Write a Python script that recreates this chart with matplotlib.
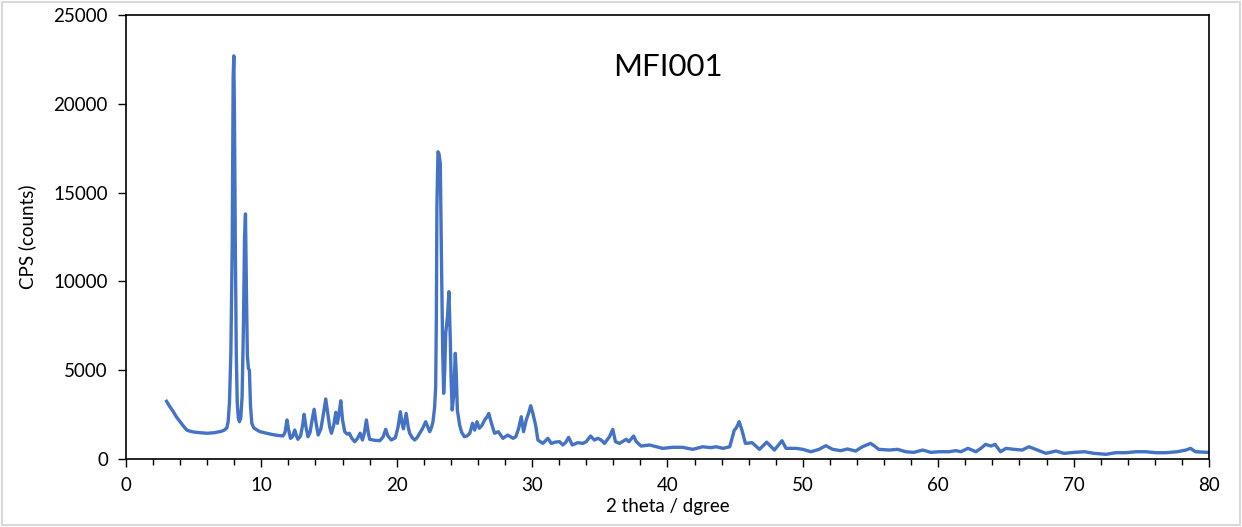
import matplotlib
matplotlib.use("Agg")
import matplotlib.pyplot as plt
from matplotlib.patches import Rectangle
from matplotlib.ticker import MultipleLocator

plt.rcParams["font.family"] = ["Lato", "DejaVu Sans"]

C_LINE = "#4472C4"
C_TEXT = "#000000"

# XRD pattern (2 theta in degrees, intensity in CPS)
two_theta = [
    3.0, 3.2, 3.5, 3.75, 4.0, 4.25, 4.5, 4.75, 5.0, 5.5, 6.0, 6.5, 7.0, 7.25,
    7.45, 7.55, 7.65, 7.75, 7.85, 7.92, 7.97, 8.02, 8.08, 8.15, 8.22, 8.3,
    8.38, 8.48, 8.58, 8.68, 8.76, 8.83, 8.9, 8.97, 9.05, 9.12, 9.2, 9.3,
    9.45, 9.65, 9.9, 10.4, 10.8, 11.2, 11.6, 11.75, 11.9, 12.0, 12.15, 12.3,
    12.47, 12.6, 12.7, 12.9, 13.05, 13.16, 13.3, 13.45, 13.6, 13.75, 13.9,
    14.05, 14.2, 14.4, 14.6, 14.76, 14.9, 15.05, 15.18, 15.35, 15.5, 15.62,
    15.75, 15.87, 16.0, 16.16, 16.35, 16.5, 16.7, 16.9, 17.1, 17.3, 17.47,
    17.62, 17.76, 17.9, 18.0, 18.4, 18.75, 19.0, 19.19, 19.35, 19.6, 19.9,
    20.1, 20.27, 20.4, 20.5, 20.7, 20.85, 20.96, 21.15, 21.33, 21.5, 21.7,
    21.9, 22.14, 22.3, 22.44, 22.58, 22.68, 22.8, 22.88, 22.93, 22.97, 23.05,
    23.12, 23.22, 23.32, 23.4, 23.47, 23.55, 23.62, 23.75, 23.86, 23.96,
    24.02, 24.1, 24.2, 24.33, 24.4, 24.48, 24.65, 24.8, 25.0, 25.2, 25.4,
    25.6, 25.76, 25.93, 26.1, 26.3, 26.5, 26.7, 26.8, 27.0, 27.23, 27.5,
    27.85, 28.2, 28.6, 28.8, 29.0, 29.2, 29.37, 29.57, 29.75, 29.9, 30.06,
    30.26, 30.43, 30.8, 31.17, 31.42, 31.7, 32.03, 32.27, 32.5, 32.7, 32.97,
    33.38, 33.75, 34.0, 34.32, 34.6, 34.86, 35.1, 35.35, 35.72, 35.96, 36.16,
    36.46, 36.95, 37.15, 37.5, 37.7, 38.06, 38.67, 39.17, 39.65, 40.39, 41.1,
    41.87, 42.6, 43.2, 43.6, 44.1, 44.6, 44.94, 45.07, 45.3, 45.5, 45.76,
    46.25, 46.8, 47.33, 47.9, 48.46, 48.76, 49.5, 50.0, 50.6, 51.2, 51.7,
    52.2, 52.8, 53.3, 53.9, 54.4, 55.0, 55.3, 55.6, 56.4, 57.0, 57.6, 58.2,
    58.85, 59.46, 60.07, 60.8, 61.3, 61.67, 62.2, 62.78, 63.15, 63.5, 63.9,
    64.2, 64.6, 65.0, 65.6, 66.2, 66.7, 67.2, 67.95, 68.7, 69.3, 70.04,
    70.8, 71.5, 72.4, 73.1, 73.85, 74.6, 75.3, 76.1, 76.8, 77.66, 78.3,
    78.64, 79.0, 79.9,
]
cps = [
    3250, 3000, 2660, 2350, 2100, 1850, 1630, 1560, 1520, 1480, 1450, 1480,
    1550, 1620, 1750, 2100, 3200, 6000, 12000, 21500, 22700, 19000, 12000,
    6000, 3200, 2300, 2100, 2300, 3500, 7500, 12500, 13800, 9500, 5800, 5100,
    5000, 3000, 2000, 1750, 1650, 1540, 1450, 1380, 1330, 1300, 1500, 2200,
    1700, 1165, 1250, 1630, 1300, 1110, 1300, 1900, 2515, 1800, 1255, 1500,
    2200, 2800, 2000, 1350, 1700, 2600, 3380, 2600, 1800, 1450, 1900, 2630,
    2010, 2600, 3280, 2200, 1540, 1400, 1450, 1150, 975, 1150, 1450, 1070,
    1500, 2200, 1500, 1110, 1050, 1030, 1250, 1670, 1300, 1070, 1200, 1800,
    2660, 2000, 1700, 2570, 1800, 1450, 1200, 1070, 1200, 1450, 1700, 2100,
    1800, 1540, 1800, 2100, 2900, 4070, 8000, 14200, 17300, 17200, 16650,
    10450, 6000, 3700, 5000, 7080, 8000, 9420, 6700, 4500, 2760, 3500, 5950,
    4800, 2760, 1910, 1500, 1255, 1300, 1450, 2010, 1630, 2100, 1730, 1900,
    2200, 2400, 2570, 2010, 1450, 1540, 1165, 1350, 1165, 1255, 1700, 2380,
    1540, 2200, 2600, 3000, 2570, 1910, 1070, 880, 1165, 880, 950, 975, 790,
    950, 1220, 790, 920, 880, 975, 1295, 1070, 1165, 1070, 880, 1255, 1670,
    975, 880, 1110, 975, 1295, 975, 730, 790, 690, 600, 660, 660, 545, 690,
    640, 690, 600, 690, 1630, 1730, 2100, 1630, 880, 920, 545, 950, 505,
    1030, 600, 600, 545, 410, 545, 750, 545, 470, 565, 450, 690, 880, 730,
    545, 505, 545, 410, 375, 505, 375, 410, 410, 470, 410, 600, 410, 600,
    825, 730, 825, 410, 600, 545, 505, 690, 545, 320, 450, 320, 375, 410,
    320, 265, 355, 355, 410, 410, 355, 355, 410, 505, 600, 410, 375,
]

fig = plt.figure(figsize=(12.42, 5.27), dpi=100)
fig.patch.set_facecolor("white")
ax = fig.add_axes([0.1014, 0.129, 0.872, 0.8425])

ax.plot(two_theta, cps, color=C_LINE, linewidth=2.4, solid_joinstyle="round")

ax.set_xlim(0, 80)
ax.set_ylim(0, 25000)
ax.xaxis.set_major_locator(MultipleLocator(10))
ax.xaxis.set_minor_locator(MultipleLocator(2))
ax.yaxis.set_major_locator(MultipleLocator(5000))
ax.tick_params(axis="both", which="major", direction="out", length=6, width=1,
               labelsize=13.5, colors=C_TEXT, pad=7)
ax.tick_params(axis="x", which="minor", direction="out", length=4, width=1)
for s in ax.spines.values():
    s.set_linewidth(1.2)
    s.set_color("black")

ax.set_xlabel("2 theta / dgree", fontsize=13.5, labelpad=3)
ax.set_ylabel("CPS (counts)", fontsize=13.5, labelpad=12)

ax.text(0.5, 0.883, "MFI001", transform=ax.transAxes, ha="center", va="center",
        fontsize=22.5, color=C_TEXT)

# light grey chart-area border
fig.patches.append(Rectangle((0.002, 0.003), 0.996, 0.994, transform=fig.transFigure,
                             fill=False, edgecolor="#D9D9D9", linewidth=1.5))

fig.savefig("out.png", dpi=100, facecolor="white")
